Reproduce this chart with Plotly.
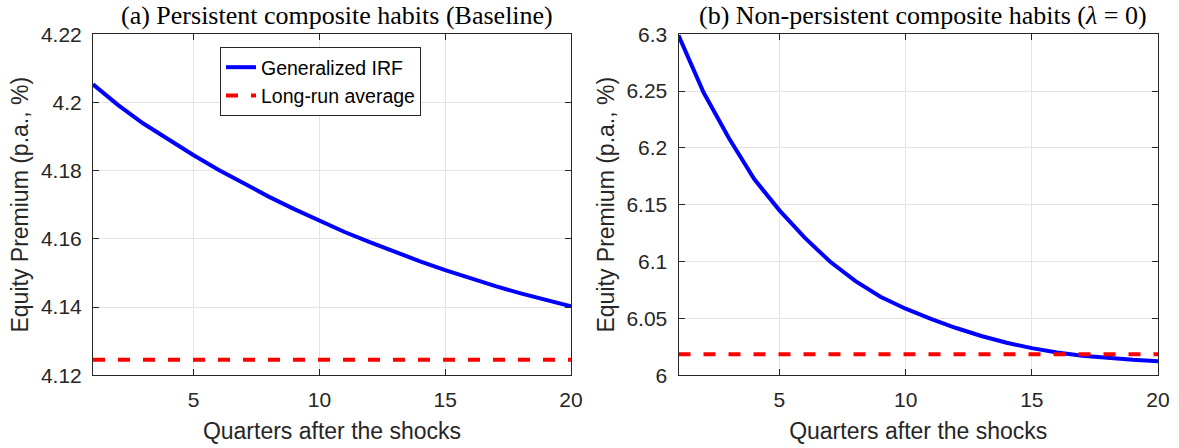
import plotly.graph_objects as go

quarters = list(range(1, 21))
irf_a = [4.2053, 4.1992, 4.1938, 4.1890, 4.1845, 4.1802, 4.1761, 4.1723, 4.1687, 4.1653,
         4.1620, 4.1590, 4.1561, 4.1534, 4.1508, 4.1484, 4.1461, 4.1440, 4.1420, 4.1402]
lr_a = 4.1245
irf_b = [6.2990, 6.2485, 6.2085, 6.1725, 6.1450, 6.1210, 6.1000, 6.0830, 6.0690, 6.0585,
         6.0495, 6.0415, 6.0345, 6.0285, 6.0238, 6.0200, 6.0172, 6.0152, 6.0136, 6.0123]
lr_b = 6.0185

xticks = [5, 10, 15, 20]
yticks_a = [4.12, 4.14, 4.16, 4.18, 4.20, 4.22]
yticklabels_a = ["4.12", "4.14", "4.16", "4.18", "4.2", "4.22"]
yticks_b = [6.0, 6.05, 6.1, 6.15, 6.2, 6.25, 6.3]
yticklabels_b = ["6", "6.05", "6.1", "6.15", "6.2", "6.25", "6.3"]

titles = ["(a) Persistent composite habits (Baseline)",
          "(b) Non-persistent composite habits (<i>λ</i> = 0)"]

AX = "#262626"
GRID = "#e3e3e3"
SANS = "Liberation Sans"
SERIF = "Liberation Serif"

fig = go.Figure()

# panel a
fig.add_trace(go.Scatter(x=quarters, y=irf_a, mode="lines", name="Generalized IRF",
                         line=dict(color="#0000ff", width=4), xaxis="x", yaxis="y"))
fig.add_trace(go.Scatter(x=[quarters[0], quarters[-1]], y=[lr_a, lr_a], mode="lines",
                         name="Long-run average",
                         line=dict(color="#ff0000", width=4, dash="12px,13px"),
                         xaxis="x", yaxis="y"))
# panel b
fig.add_trace(go.Scatter(x=quarters, y=irf_b, mode="lines", showlegend=False,
                         line=dict(color="#0000ff", width=4), xaxis="x2", yaxis="y2"))
fig.add_trace(go.Scatter(x=[quarters[0], quarters[-1]], y=[lr_b, lr_b], mode="lines",
                         showlegend=False,
                         line=dict(color="#ff0000", width=4, dash="12px,13px"),
                         xaxis="x2", yaxis="y2"))

W, H = 1179, 448
xdom_a = [93 / W, 571 / W]
xdom_b = [678.5 / W, 1158 / W]
ydom = [(H - 375.2) / H, (H - 34.2) / H]

common_x = dict(range=[1, 20], tickvals=xticks, ticks="inside", ticklen=6, tickwidth=1,
                tickcolor=AX, showline=True, linecolor=AX, linewidth=1, mirror="ticks",
                showgrid=True, gridcolor=GRID, gridwidth=1, zeroline=False,
                tickfont=dict(family=SANS, size=21, color=AX), ticklabelstandoff=6,
                title=dict(text="Quarters after the shocks",
                           font=dict(family=SANS, size=23, color=AX), standoff=12),
                automargin=False)
common_y = dict(ticks="inside", ticklen=6, tickwidth=1, tickcolor=AX, showline=True,
                linecolor=AX, linewidth=1, mirror="ticks", showgrid=True, gridcolor=GRID,
                gridwidth=1, zeroline=False,
                tickfont=dict(family=SANS, size=21, color=AX), ticklabelstandoff=6,
                title=dict(text="Equity Premium (p.a., %)",
                           font=dict(family=SANS, size=23, color=AX), standoff=5),
                automargin=False)

fig.update_layout(
    width=W, height=H,
    margin=dict(l=0, r=0, t=0, b=0),
    paper_bgcolor="white", plot_bgcolor="white",
    xaxis=dict(domain=xdom_a, anchor="y", **common_x),
    yaxis=dict(domain=ydom, anchor="x", range=[4.12, 4.22], tickvals=yticks_a,
               ticktext=yticklabels_a, **common_y),
    xaxis2=dict(domain=xdom_b, anchor="y2", **common_x),
    yaxis2=dict(domain=ydom, anchor="x2", range=[6.0, 6.3], tickvals=yticks_b,
                ticktext=yticklabels_b, **common_y),
    legend=dict(x=220 / W, y=1 - 47 / H, xanchor="left", yanchor="top",
                bgcolor="white", bordercolor=AX, borderwidth=1,
                font=dict(family=SANS, size=19.5, color="#000000"),
                tracegroupgap=0),
    showlegend=True,
)

for i, t in enumerate(titles):
    dom = xdom_a if i == 0 else xdom_b
    fig.add_annotation(text=t, xref="paper", yref="paper",
                       x=(dom[0] + dom[1]) / 2 + 5 / W, y=1 - 15 / H,
                       xanchor="center", yanchor="middle", showarrow=False,
                       font=dict(family=SERIF, size=26, color="#000000"))

fig.write_html("out.html")
